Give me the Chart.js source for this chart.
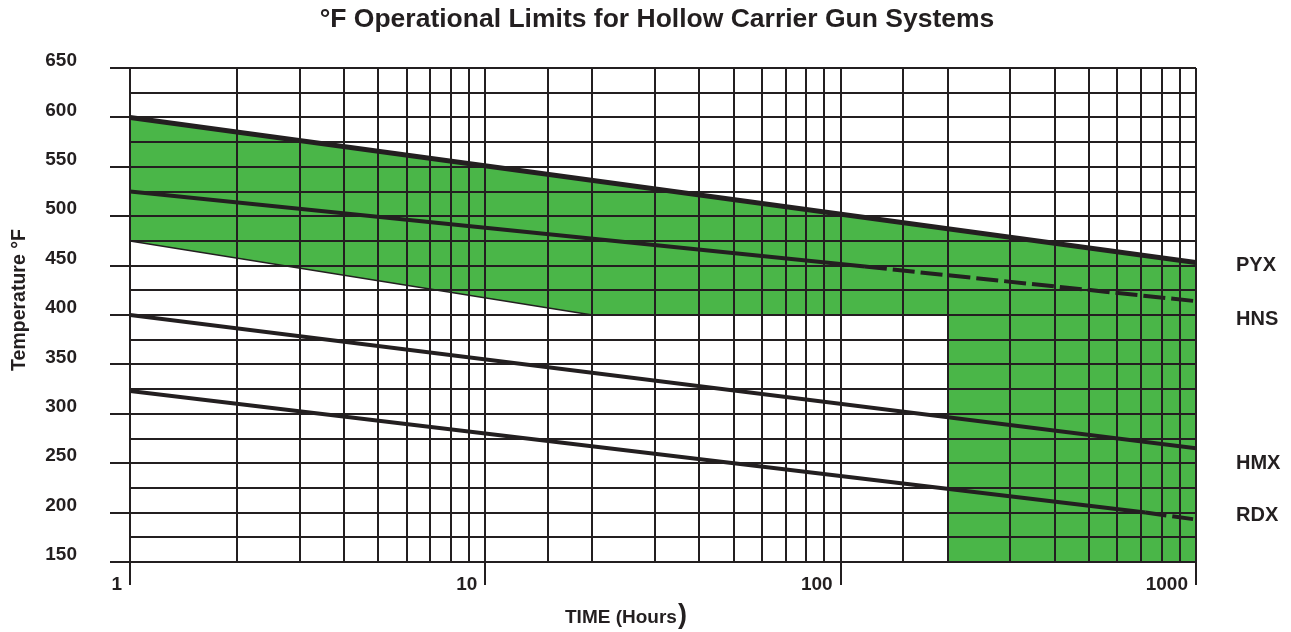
<!DOCTYPE html>
<html><head><meta charset="utf-8">
<script src="https://cdn.jsdelivr.net/npm/chart.js@4.4.1/dist/chart.umd.min.js"></script>
<style>html,body{margin:0;padding:0;background:#fff;}</style>
</head><body>
<canvas id="c" width="1291" height="632"></canvas>
<script>
// ---- text ----
const chartTitle = '°F Operational Limits for Hollow Carrier Gun Systems';
const xAxisTitle = 'TIME (Hours';
const xAxisTitleEnd = ')';
const yAxisTitle = 'Temperature °F';
const seriesNames = ['PYX', 'HNS', 'HMX', 'RDX'];
const seriesLabelTemps = [450, 395, 250, 197];

// ---- data (hours, °F) ----
const pyxHours = [1, 1000];
const pyxTemps = [600, 453];
const hnsHours = [1, 117, 1000];
const hnsTemps = [525, 449, 414];
const hmxHours = [1, 1000];
const hmxTemps = [400, 265];
const rdxHours = [1, 721, 1000];
const rdxTemps = [323, 200, 193];
const zoneHours = [1, 1000, 1000, 200, 200, 20, 1];
const zoneTemps = [600, 453, 150, 150, 400, 400, 475];
const edgeHours = [1, 20];
const edgeTemps = [475, 400];

// ---- axes ----
const xMin = 1, xMax = 1000;
const yMin = 150, yMax = 650, yStep = 25, yLabelStep = 50;

const DARK = '#231f20';
const GREEN = '#4ab648';
const FONT = '"Liberation Sans", Arial, Helvetica, sans-serif';

function pts(xs, ys) { return xs.map((x, i) => ({x: x, y: ys[i]})); }
function isDecade(v) { const l = Math.log10(v); return Math.abs(l - Math.round(l)) < 1e-9; }

const textPlugin = {
  id: 'texts',
  afterDraw(chart) {
    const ctx = chart.ctx, a = chart.chartArea, ys = chart.scales.y;
    const cx = (a.left + a.right) / 2;
    ctx.save();
    ctx.fillStyle = DARK;
    ctx.textBaseline = 'alphabetic';
    // title
    ctx.font = 'bold 26.5px ' + FONT;
    ctx.textAlign = 'center';
    ctx.fillText(chartTitle, cx - 6, 27);
    // x title
    ctx.font = 'bold 19px ' + FONT;
    ctx.textAlign = 'left';
    const xt = cx - 98;
    ctx.fillText(xAxisTitle, xt, 623);
    const w = ctx.measureText(xAxisTitle).width;
    ctx.font = 'bold 27px ' + FONT;
    ctx.fillText(xAxisTitleEnd, xt + w + 1, 623);
    // y title
    ctx.save();
    ctx.translate(25, (a.top + a.bottom) / 2 - 15);
    ctx.rotate(-Math.PI / 2);
    ctx.font = 'bold 19.5px ' + FONT;
    ctx.textAlign = 'center';
    ctx.fillText(yAxisTitle, 0, 0);
    ctx.restore();
    // series labels
    ctx.font = 'bold 20px ' + FONT;
    ctx.textAlign = 'left';
    ctx.textBaseline = 'middle';
    seriesNames.forEach((n, i) => {
      ctx.fillText(n, a.right + 40, ys.getPixelForValue(seriesLabelTemps[i]));
    });
    ctx.restore();
  }
};

const lineBase = {pointRadius: 0, borderColor: DARK, fill: false, tension: 0, borderCapStyle: 'butt', order: 1};

new Chart(document.getElementById('c'), {
  type: 'line',
  data: {
    datasets: [
      {label: 'zone', data: pts(zoneHours, zoneTemps), pointRadius: 0, borderWidth: 0,
       borderColor: 'rgba(0,0,0,0)', backgroundColor: GREEN, fill: 'shape', tension: 0, order: 10},
      Object.assign({label: 'edge', data: pts(edgeHours, edgeTemps), borderWidth: 1.5}, lineBase),
      Object.assign({label: 'PYX', data: pts(pyxHours, pyxTemps), borderWidth: 5}, lineBase),
      Object.assign({label: 'HNS', data: pts(hnsHours, hnsTemps), borderWidth: 4,
        segment: {borderDash: c => c.p0DataIndex >= 1 ? [22, 6] : []}}, lineBase),
      Object.assign({label: 'HMX', data: pts(hmxHours, hmxTemps), borderWidth: 4}, lineBase),
      Object.assign({label: 'RDX', data: pts(rdxHours, rdxTemps), borderWidth: 4,
        segment: {borderDash: c => c.p0DataIndex >= 1 ? [21, 6] : []}}, lineBase)
    ]
  },
  options: {
    responsive: false,
    animation: false,
    devicePixelRatio: 1,
    layout: {padding: {left: 0, right: 95, top: 68, bottom: 0}},
    plugins: {legend: {display: false}, tooltip: {enabled: false}, title: {display: false}},
    scales: {
      x: {
        type: 'logarithmic', min: xMin, max: xMax,
        afterFit: s => { s.height = 70; },
        grid: {z: 1, color: DARK, lineWidth: 2, tickLength: 23, tickWidth: 2,
               tickColor: c => (c.tick && isDecade(c.tick.value)) ? DARK : 'rgba(0,0,0,0)'},
        border: {z: 1, color: DARK, width: 2},
        ticks: {autoSkip: false, maxRotation: 0, minRotation: 0, align: 'end', labelOffset: -8, padding: -12,
                color: DARK, font: {family: FONT, size: 19, weight: 'bold'},
                callback: v => isDecade(v) ? String(Math.round(v)) : ''}
      },
      y: {
        type: 'linear', min: yMin, max: yMax,
        afterFit: s => { s.width = 130; },
        grid: {z: 1, color: DARK, lineWidth: 2, tickLength: 20, tickWidth: 2,
               tickColor: c => (c.tick && c.tick.value % yLabelStep === 0) ? DARK : 'rgba(0,0,0,0)'},
        border: {z: 1, color: DARK, width: 2},
        ticks: {stepSize: yStep, autoSkip: false, padding: 33, labelOffset: -7,
                color: DARK, font: {family: FONT, size: 19, weight: 'bold'},
                callback: v => (v % yLabelStep === 0) ? String(v) : ''}
      }
    }
  },
  plugins: [textPlugin]
});
</script>
</body></html>
